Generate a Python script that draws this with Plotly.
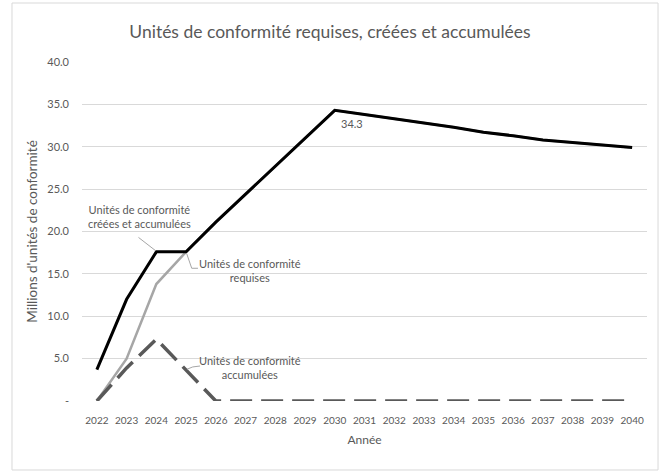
import plotly.graph_objects as go

years = list(range(2022, 2041))
created = [3.7, 12.0, 17.6, 17.6, 21.1, 24.4, 27.8, 31.1, 34.3, 33.8, 33.3, 32.8, 32.3, 31.7, 31.3, 30.8, 30.5, 30.2, 29.9]
required = [0.0, 5.0, 13.8, 17.6, 21.1, 24.4, 27.8, 31.1, 34.3, 33.8, 33.3, 32.8, 32.3, 31.7, 31.3, 30.8, 30.5, 30.2, 29.9]
accumulated = [0.0, 3.9, 7.3, 3.7, 0, 0, 0, 0, 0, 0, 0, 0, 0, 0, 0, 0, 0, 0, 0]
y_ticks = [0, 5, 10, 15, 20, 25, 30, 35, 40]
y_tick_labels = ["-", "5.0", "10.0", "15.0", "20.0", "25.0", "30.0", "35.0", "40.0"]

FONT = "Lato"
TXT = "#595959"

fig = go.Figure()
fig.add_trace(go.Scatter(x=years, y=required, mode="lines",
                         line=dict(color="#a6a6a6", width=2.5), showlegend=False))
fig.add_trace(go.Scatter(x=years, y=accumulated, mode="lines",
                         line=dict(color="#595959", width=3.5, dash="22px,9px"), showlegend=False))
fig.add_trace(go.Scatter(x=years, y=created, mode="lines",
                         line=dict(color="#000000", width=3), showlegend=False))

ann_font = dict(family=FONT, size=11, color=TXT)
fig.add_annotation(x=2023.45, y=21.8, text="Unités de conformité<br>créées et accumulées",
                   showarrow=False, font=ann_font, align="center")
fig.add_annotation(x=2027.15, y=15.45, text="Unités de conformité<br>requises",
                   showarrow=False, font=ann_font, align="center")
fig.add_annotation(x=2027.15, y=3.9, text="Unités de conformité<br>accumulées",
                   showarrow=False, font=ann_font, align="center")
fig.add_annotation(x=2030.58, y=32.7, text="34.3", showarrow=False, font=ann_font)

lead = dict(color="#a6a6a6", width=1)
fig.add_shape(type="line", x0=2023.4, y0=19.3, x1=2023.97, y1=17.75, line=lead)
fig.add_shape(type="path", path="M 2025.02,17.4 L 2025.19,15.66 L 2025.4,15.66", line=lead)
fig.add_shape(type="path", path="M 2025.03,3.75 Q 2025.2,4.1 2025.47,4.13", line=lead)

# outer chart frame
fig.add_shape(type="rect", xref="paper", yref="paper", x0=-0.1239, x1=1.0195, y0=-0.2035, y1=1.174,
              line=dict(color="#d9d9d9", width=1), layer="below")

fig.update_layout(
    width=660, height=473,
    margin=dict(l=82, r=13, t=62, b=72),
    paper_bgcolor="white", plot_bgcolor="white",
    font=dict(family=FONT, color=TXT),
    title=dict(text="Unités de conformité requises, créées et accumulées",
               x=0.5, xanchor="center", y=0.932, yanchor="middle",
               font=dict(family=FONT, size=17.5, color=TXT)),
    xaxis=dict(range=[2021.5, 2040.5], tickmode="array", tickvals=years,
               ticktext=[str(y) for y in years], showgrid=False, zeroline=False,
               showline=False, ticks="", tickfont=dict(size=10, color=TXT),
               ticklabelstandoff=12,
               title=dict(text="Année", font=dict(size=12, color=TXT), standoff=10)),
    yaxis=dict(range=[0, 40], tickmode="array", tickvals=y_ticks, ticktext=y_tick_labels,
               showgrid=True, gridcolor="#d9d9d9", gridwidth=1, zeroline=False,
               showline=False, ticks="", tickfont=dict(size=11, color=TXT),
               ticklabelstandoff=12,
               title=dict(text="Millions d'unités de conformité", font=dict(size=13.5, color=TXT), standoff=6)),
)

fig.write_html("out.html")
